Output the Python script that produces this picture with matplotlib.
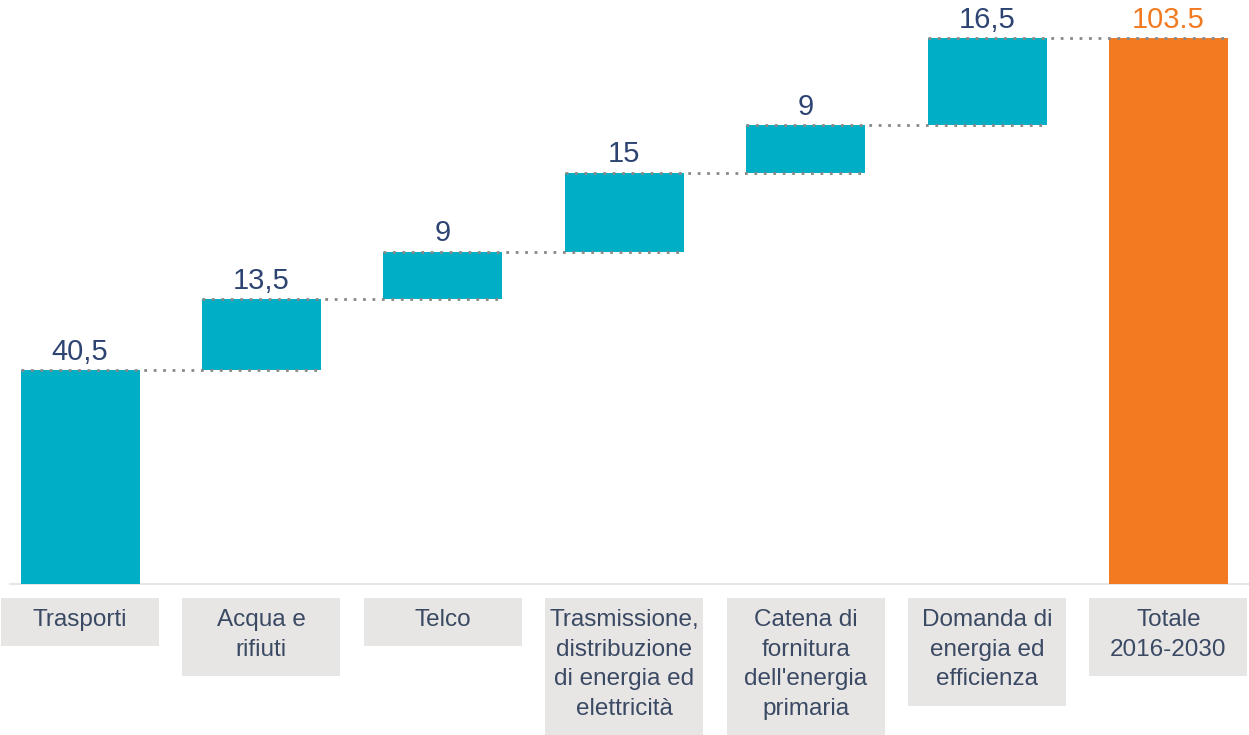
import matplotlib
matplotlib.use("Agg")
import matplotlib.pyplot as plt
from matplotlib.patches import Rectangle
from matplotlib.transforms import blended_transform_factory, offset_copy

# ---- data ----
categories = [
    "Trasporti",
    "Acqua e\nrifiuti",
    "Telco",
    "Trasmissione,\ndistribuzione\ndi energia ed\nelettricità",
    "Catena di\nfornitura\ndell'energia\nprimaria",
    "Domanda di\nenergia ed\nefficienza",
    "Totale\n2016-2030",
]
increments = [40.5, 13.5, 9, 15, 9, 16.5]
total = [103.5]
value_labels = ["40,5", "13,5", "9", "15", "9", "16,5", "103.5"]

TEAL = "#00AFC6"
ORANGE = "#F27A21"
VALUE_COL = "#2D4472"
LABEL_COL = "#3A4964"
BOX_COL = "#E8E6E4"
DOT_COL = "#888888"

plt.rcParams['font.family'] = ['Liberation Sans', 'DejaVu Sans']

W, H = 1249, 735
fig = plt.figure(figsize=(W / 100, H / 100), dpi=100)
base_px = 584
ax = fig.add_axes([0, (H - base_px) / H, 1, base_px / H])
ax.set_axis_off()

spacing = 181.4
ax.set_xlim(-80 / spacing, (W - 80) / spacing)
scale = (base_px - 38) / total[0]
ax.set_ylim(0, base_px / scale)

bw = 119 / spacing
n = len(categories)
xs = list(range(n))

# bars
bottoms = []
cum = 0
for v in increments:
    bottoms.append(cum)
    cum += v
heights = increments + total
bottoms = bottoms + [0]
colors = [TEAL] * len(increments) + [ORANGE]
ax.bar(xs, heights, bottom=bottoms, width=bw, color=colors, zorder=2)

# baseline
ax.plot([-70 / spacing, (W - 80) / spacing], [0, 0],
        color="#E2E2E2", lw=1.2, zorder=1, clip_on=False)

# dotted connectors
tops = [b + h for b, h in zip(bottoms, heights)]
for i in range(n - 1):
    level = tops[i]
    ax.plot([xs[i] - bw / 2, xs[i + 1] + bw / 2], [level, level],
            color=DOT_COL, lw=2.0, linestyle=(0, (1, 2.4)), zorder=3)

# value labels
off = offset_copy(ax.transData, fig=fig, x=0, y=7.5, units='points')
for i in range(n):
    ax.text(xs[i], tops[i], value_labels[i], transform=off,
            ha='center', va='baseline', fontsize=21,
            color=ORANGE if i == n - 1 else VALUE_COL)

# category label boxes
trans = blended_transform_factory(ax.transData, fig.transFigure)
box_w = 158 / spacing
box_top = 598
for i, lab in enumerate(categories):
    nl = lab.count("\n") + 1
    bh = 18 + 30 * nl
    rect = Rectangle((xs[i] - box_w / 2, (H - box_top - bh) / H), box_w, bh / H,
                     transform=trans, facecolor=BOX_COL, edgecolor='none',
                     clip_on=False, zorder=1)
    ax.add_patch(rect)
    ax.text(xs[i], (H - box_top - 11) / H, lab, transform=trans,
            ha='center', va='top', fontsize=17.5, color=LABEL_COL,
            linespacing=1.45, multialignment='center', clip_on=False, zorder=4)

fig.savefig("out.png", dpi=100)
